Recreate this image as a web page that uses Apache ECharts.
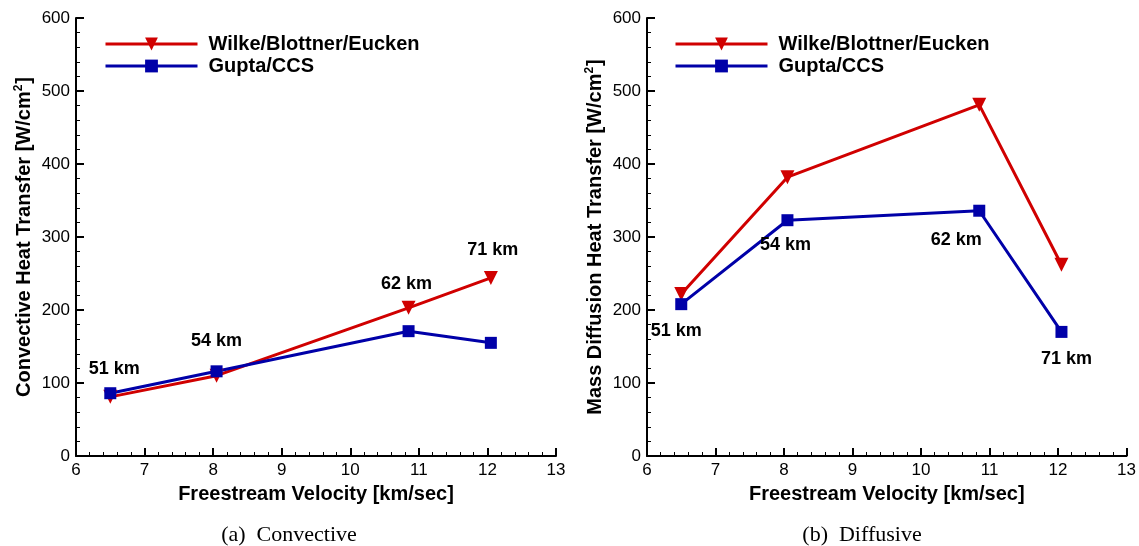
<!DOCTYPE html>
<html><head><meta charset="utf-8">
<script src="https://cdn.jsdelivr.net/npm/echarts@6/dist/echarts.min.js"></script>
<style>html,body{margin:0;padding:0;background:#fff}#c{width:1139px;height:546px}</style>
</head><body><div id="c"></div>
<script>
const velocity = [6.5, 8.05, 10.85, 12.05];
const altitudes = ['51 km', '54 km', '62 km', '71 km'];
const convWilke = [81, 110, 203, 244];
const convGupta = [86, 116, 171, 155];
const diffWilke = [222, 382, 481, 262];
const diffGupta = [208, 323, 336, 170];
const xTicks = [6, 7, 8, 9, 10, 11, 12, 13];
const yTicks = [0, 100, 200, 300, 400, 500, 600];
const seriesNames = ['Wilke/Blottner/Eucken', 'Gupta/CCS'];
const xName = 'Freestream Velocity [km/sec]';
const yNames = ['Convective Heat Transfer [W/cm', 'Mass Diffusion Heat Transfer [W/cm'];
const captions = ['(a)  Convective', '(b)  Diffusive'];

const RED = '#d00000', BLUE = '#0000a8';
const FONT = 'Liberation Sans, Arial, sans-serif';

// label placement: which series (0 = Wilke, 1 = Gupta) carries each altitude label, and offset
const convLabelOn = [1, 1, 0, 0];
const convOffsets = [[4, -24], [0, -30], [-2, -24], [2, -28]];
const diffLabelOn = [1, 1, 1, 1];
const diffOffsets = [[-5, 27], [-2, 25], [-23, 29], [5, 27]];

function buildData(ys, sIdx, labelOn, offsets) {
  return ys.map((y, i) => {
    const item = { value: [velocity[i], y] };
    if (labelOn[i] === sIdx) {
      item.label = { show: true, formatter: altitudes[i], offset: offsets[i],
        position: 'inside', color: '#000', fontFamily: FONT, fontWeight: 'bold', fontSize: 18 };
    }
    return item;
  });
}

const tickStyle = {
  axisLine: { show: true, onZero: false, lineStyle: { color: '#000', width: 2 } },
  axisTick: { show: true, inside: true, length: 8, lineStyle: { color: '#000', width: 2 } },
  minorTick: { show: true, splitNumber: 5, length: 4, lineStyle: { color: '#000', width: 1 } },
  axisLabel: { fontFamily: FONT, fontSize: 17, color: '#000', margin: 6 },
  splitLine: { show: false }
};
function xAxis(gi) {
  return Object.assign({
    gridIndex: gi, type: 'value', min: xTicks[0], max: xTicks[xTicks.length - 1], interval: 1,
    name: xName, nameLocation: 'middle', nameGap: 28,
    nameTextStyle: { fontFamily: FONT, fontWeight: 'bold', fontSize: 20, color: '#000' }
  }, tickStyle);
}
function yAxis(gi) {
  return Object.assign({
    gridIndex: gi, type: 'value', min: yTicks[0], max: yTicks[yTicks.length - 1], interval: 100,
    name: '{a|' + yNames[gi] + '}{s|2}{a|]}', nameLocation: 'middle', nameGap: 41,
    nameTextStyle: { fontFamily: FONT, fontWeight: 'bold', fontSize: 20, color: '#000',
      rich: {
        a: { fontFamily: FONT, fontWeight: 'bold', fontSize: 20, color: '#000', lineHeight: 22 },
        s: { fontFamily: FONT, fontWeight: 'bold', fontSize: 12, color: '#000', lineHeight: 22, verticalAlign: 'top', padding: [0, 1, 10, 0] }
      } }
  }, tickStyle);
}
function series(gi, name, ys, sIdx, labelOn, offsets) {
  const isW = sIdx === 0;
  return {
    type: 'line', name: name, xAxisIndex: gi, yAxisIndex: gi,
    data: buildData(ys, sIdx, labelOn, offsets),
    symbol: isW ? 'triangle' : 'rect', symbolRotate: isW ? 180 : 0,
    symbolSize: isW ? 14 : 12, showAllSymbol: true,
    lineStyle: { color: isW ? RED : BLUE, width: 3 },
    itemStyle: { color: isW ? RED : BLUE },
    emphasis: { disabled: true }, animation: false
  };
}
function legend(left, id) {
  return {
    id: id, data: seriesNames, orient: 'vertical', left: left, top: 29,
    itemWidth: 92, itemHeight: 16, itemGap: 2,
    lineStyle: { width: 3 },
    textStyle: { fontFamily: FONT, fontWeight: 'bold', fontSize: 20, color: '#000', padding: [0, 0, 0, 6] },
    selectedMode: false
  };
}
const capStyle = { fontFamily: 'Liberation Serif, DejaVu Serif, serif', fontWeight: 'normal', fontSize: 22, color: '#000' };

const chart = echarts.init(document.getElementById('c'), null, { renderer: 'canvas' });
chart.setOption({
  backgroundColor: '#fff',
  animation: false,
  title: [
    { text: captions[0], left: 289, top: 524, padding: 0, textAlign: 'center', textStyle: capStyle },
    { text: captions[1], left: 862, top: 524, padding: 0, textAlign: 'center', textStyle: capStyle }
  ],
  legend: [legend(99, 'l0'), legend(669, 'l1')],
  grid: [
    { left: 76, top: 18, width: 480, height: 438 },
    { left: 647, top: 18, width: 481, height: 438 }
  ],
  xAxis: [xAxis(0), xAxis(1)],
  yAxis: [yAxis(0), yAxis(1)],
  series: [
    series(0, seriesNames[0], convWilke, 0, convLabelOn, convOffsets),
    series(0, seriesNames[1], convGupta, 1, convLabelOn, convOffsets),
    series(1, seriesNames[0], diffWilke, 0, diffLabelOn, diffOffsets),
    series(1, seriesNames[1], diffGupta, 1, diffLabelOn, diffOffsets)
  ]
});
</script></body></html>
